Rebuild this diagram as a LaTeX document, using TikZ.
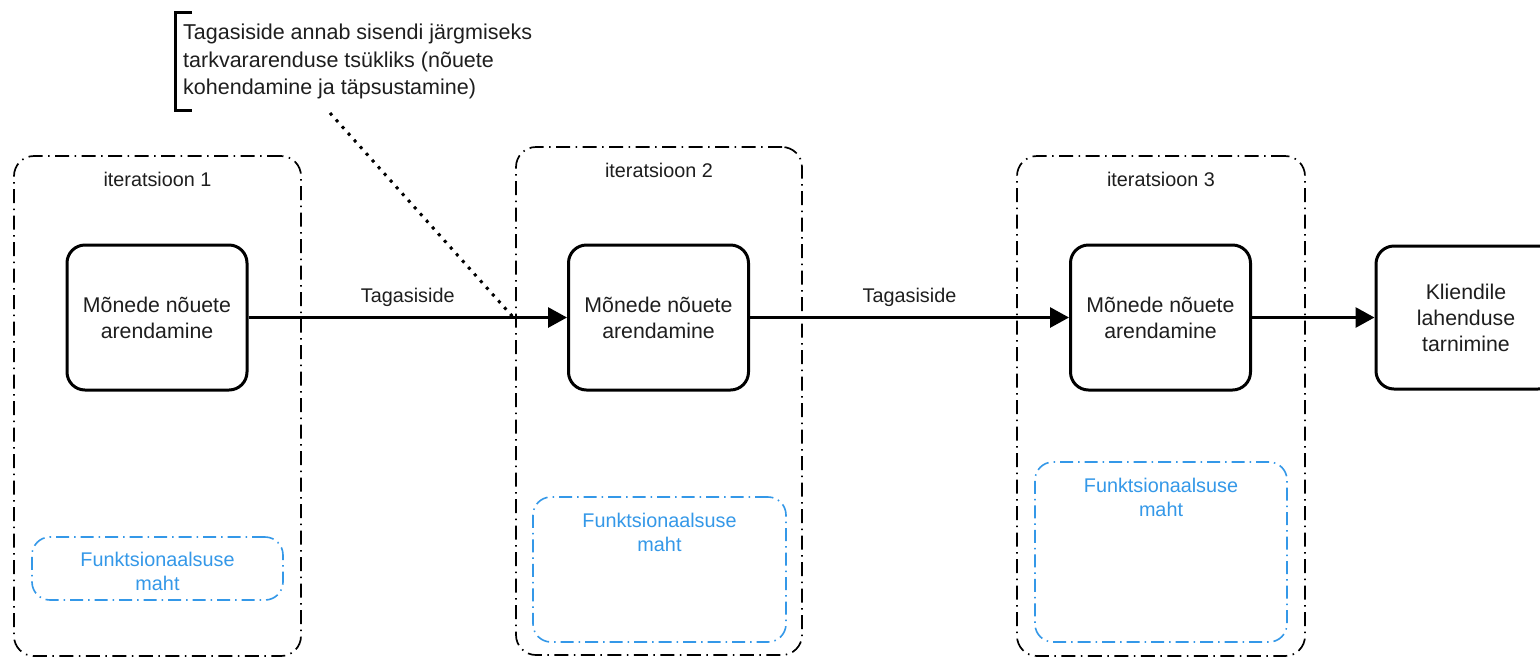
\documentclass[tikz,border=0pt]{standalone}
\usepackage{fontspec}
\setmainfont{Liberation Sans}
\usetikzlibrary{arrows.meta,calc}
\definecolor{txt}{RGB}{30,30,30}
\definecolor{fblue}{RGB}{52,152,232}
\begin{document}
\begin{tikzpicture}[x=1pt,y=-1pt,
  container/.style={draw=black, line width=1.7pt, rounded corners=20pt,
    dash pattern=on 14pt off 5.5pt on 1.5pt off 5.5pt, inner sep=0pt},
  scopebox/.style={draw=fblue, line width=1.6pt, rounded corners=18pt,
    dash pattern=on 13pt off 5pt on 1.5pt off 5pt, inner sep=0pt},
  proc/.style={draw=black, fill=white, line width=3pt, rounded corners=18pt,
    minimum width=180pt, minimum height=145pt, inner sep=0pt, align=center,
    text=txt, font=\fontsize{21.3}{26}\selectfont},
  itlabel/.style={anchor=base, text=txt, inner sep=0pt, font=\fontsize{19.8}{23}\selectfont},
  sclabel/.style={anchor=north, text=fblue, inner sep=0pt, align=center, font=\fontsize{19.8}{24}\selectfont},
  flow/.style={draw=black, line width=3pt, -{Triangle[length=19pt,width=20pt]}},
  flowlabel/.style={midway, anchor=base, yshift=15pt, text=txt, inner sep=0pt, font=\fontsize{19.8}{23}\selectfont},
  note/.style={anchor=north west, align=left, text=txt, inner sep=0pt, font=\fontsize{21.5}{27.5}\selectfont},
  bracket/.style={draw=black, line width=3pt},
  dots/.style={draw=black, line width=3pt, dash pattern=on 3pt off 6pt}
]
\clip (0,0) rectangle (1540,657);
\fill[white] (0,0) rectangle (1540,657);

% iteration containers
\node[container, minimum width=287pt, minimum height=500pt] (c1) at (157.5,406) {};
\node[container, minimum width=286pt, minimum height=508pt] (c2) at (659,401) {};
\node[container, minimum width=288pt, minimum height=500pt] (c3) at (1161,406) {};
\node[itlabel] (t1) at ([yshift=-31pt]c1.north) {iteratsioon 1};
\node[itlabel] (t2) at ([yshift=-31pt]c2.north) {iteratsioon 2};
\node[itlabel] (t3) at ([yshift=-31pt]c3.north) {iteratsioon 3};

% scope boxes
\node[scopebox, minimum width=251pt, minimum height=63pt] (s1) at (157.5,568.5) {};
\node[scopebox, minimum width=253pt, minimum height=145pt] (s2) at (659.5,569.5) {};
\node[scopebox, minimum width=252pt, minimum height=180pt] (s3) at (1161,552) {};
\node[sclabel] (l1) at ([yshift=-16pt]s1.north) {Funktsionaalsuse\\maht};
\node[sclabel] (l2) at ([yshift=-17pt]s2.north) {Funktsionaalsuse\\maht};
\node[sclabel] (l3) at ([yshift=-17pt]s3.north) {Funktsionaalsuse\\maht};

% annotation
\coordinate (ntop) at (192,12);
\coordinate (nbot) at (192,110);
\draw[bracket] (ntop) -- (175,12) -- (175,110) -- (nbot);
\node[note] (note) at (183,24) {Tagasiside annab sisendi järgmiseks\\tarkvararenduse tsükliks (nõuete\\kohendamine ja täpsustamine)};
\coordinate (dstart) at (330,113);
\coordinate (dend) at (513,317);
\draw[dots] (dstart) -- (dend);

% process boxes
\node[proc] (b1) at (157,317.5) {Mõnede nõuete\\arendamine};
\node[proc] (b2) at (658.5,317.5) {Mõnede nõuete\\arendamine};
\node[proc] (b3) at (1160.5,317.5) {Mõnede nõuete\\arendamine};
\node[proc, minimum height=143pt] (b4) at (1466,317.5) {Kliendile\\lahenduse\\tarnimine};

% flows
\draw[flow] (b1) -- node[flowlabel]{Tagasiside} (b2);
\draw[flow] (b2) -- node[flowlabel]{Tagasiside} (b3);
\draw[flow] (b3) -- (b4);
\end{tikzpicture}
\end{document}
